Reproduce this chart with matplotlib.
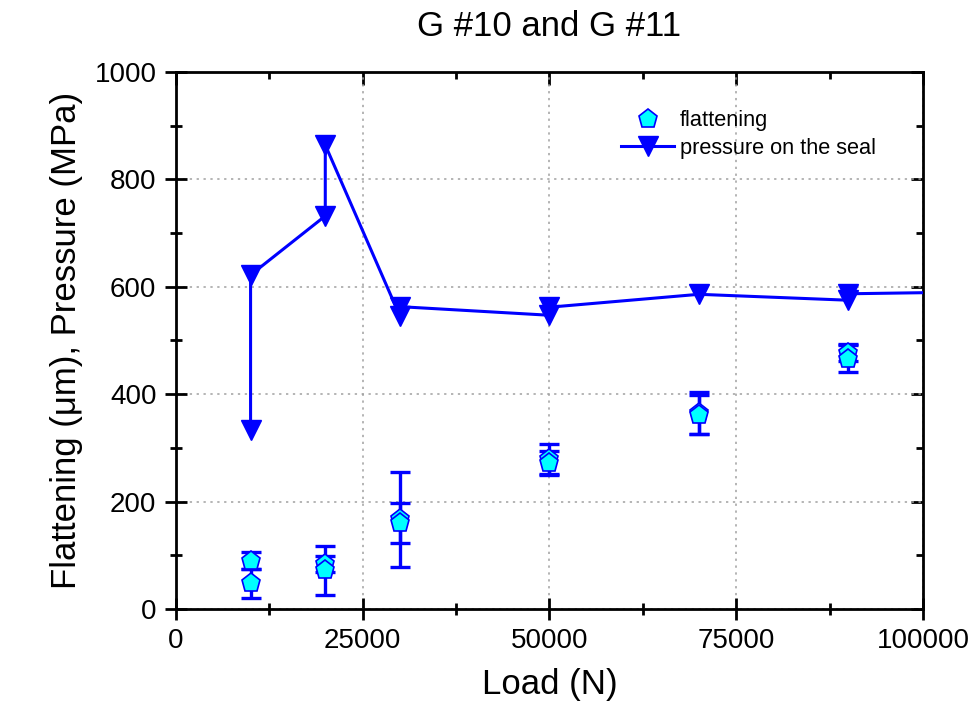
import matplotlib
matplotlib.use("Agg")
import matplotlib.pyplot as plt

plt.rcParams['font.family'] = ['Liberation Sans', 'DejaVu Sans']

# pressure on the seal (line, in drawing order)
load_p = [10000, 10000, 20000, 20000, 30000, 30000, 50000, 50000, 70000, 90000, 90000, 110000]
pressure = [333, 622, 732, 864, 545, 563, 547, 562, 586, 575, 587, 591]

# flattening with error bars
load_f = [10000, 10000, 20000, 20000, 30000, 30000, 50000, 50000, 70000, 70000, 90000, 90000]
flat = [90, 48, 83, 72, 167, 160, 280, 272, 365, 362, 477, 466]
flat_err = [16, 27, 15, 45, 88, 38, 28, 22, 40, 36, 16, 25]

xticks = [0, 25000, 50000, 75000, 100000]
yticks = [0, 200, 400, 600, 800, 1000]

fig = plt.figure(figsize=(9.77, 7.22), dpi=100)
ax = fig.add_axes([0.180, 0.1565, 0.7647, 0.7438])

ax.plot(load_p, pressure, color='#0000ff', lw=2.2, marker='v', ms=15,
        mfc='#0000ff', mec='#0000ff', label='pressure on the seal', zorder=3)

ax.errorbar(load_f, flat, yerr=flat_err, fmt='none', ecolor='#0000ff',
            elinewidth=2.4, capsize=7, capthick=2.4, zorder=4)
ax.plot(load_f, flat, ls='none', marker='p', ms=14, mfc='#00ffff',
        mec='#0000ff', mew=1.2, label='flattening', zorder=5)

ax.set_xlim(0, 100000)
ax.set_ylim(0, 1000)
ax.set_xticks(xticks)
ax.set_yticks(yticks)
ax.set_xticks([12500, 37500, 62500, 87500], minor=True)
ax.set_yticks([100, 300, 500, 700, 900], minor=True)
ax.grid(True, which='major', color='#a0a0a0', ls=(0, (1.5, 3)), lw=1.1)

for s in ax.spines.values():
    s.set_linewidth(2)
ax.tick_params(which='major', direction='inout', length=16, width=2, labelsize=20, pad=6)
ax.tick_params(which='minor', direction='inout', length=9, width=2)

# ticks on top and right, pointing inward
top = ax.secondary_xaxis('top')
top.set_xticks(xticks)
top.set_xticks([12500, 37500, 62500, 87500], minor=True)
top.tick_params(which='major', direction='in', length=9, width=2, labeltop=False)
top.tick_params(which='minor', direction='in', length=5, width=2)
right = ax.secondary_yaxis('right')
right.set_yticks(yticks)
right.set_yticks([100, 300, 500, 700, 900], minor=True)
right.tick_params(which='major', direction='in', length=9, width=2, labelright=False)
right.tick_params(which='minor', direction='in', length=5, width=2)

ax.set_xlabel('Load (N)', fontsize=25, labelpad=10)
ax.set_ylabel('Flattening (\u03bcm), Pressure (MPa)', fontsize=25, labelpad=8)
ax.set_title('G #10 and G #11', fontsize=25, pad=26)

handles, labels = ax.get_legend_handles_labels()
ax.legend(handles[::-1], labels[::-1], loc='upper left', bbox_to_anchor=(0.57, 0.965),
          frameon=False, fontsize=15.7, handlelength=2.4, handletextpad=0.3,
          labelspacing=0.3)

fig.savefig('out.png', dpi=100)
